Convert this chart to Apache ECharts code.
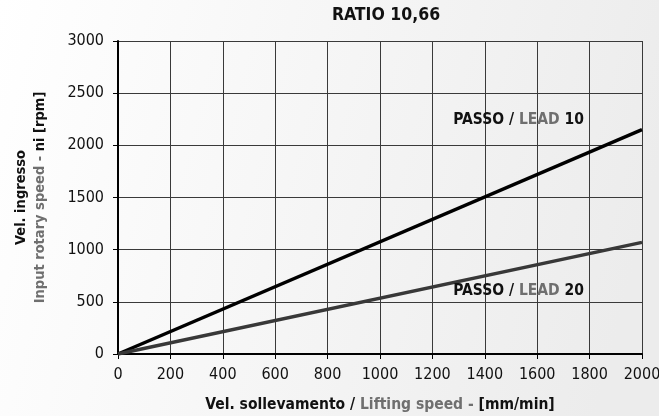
<!DOCTYPE html>
<html>
<head>
<meta charset="utf-8">
<script src="https://cdn.jsdelivr.net/npm/echarts@6/dist/echarts.min.js"></script>
<style>
html,body{margin:0;padding:0;background:#fff;}
#c{width:659px;height:416px;}
</style>
</head>
<body>
<div id="c"></div>
<script>
// Data
const speeds = [0, 2000];            // Vel. sollevamento [mm/min]
const lead10 = [0, 2150];            // PASSO / LEAD 10 -> rpm
const lead20 = [0, 1070];            // PASSO / LEAD 20 -> rpm
const xTicks = [0, 200, 400, 600, 800, 1000, 1200, 1400, 1600, 1800, 2000];
const yTicks = [0, 500, 1000, 1500, 2000, 2500, 3000];
const labelPoint10 = [1529, 2243];
const labelPoint20 = [1529, 604];

const FONT = '"DejaVu Sans Condensed", "Liberation Sans Narrow", sans-serif';
const BLK = '#111';
const GRY = '#6f6f6f';

const chart = echarts.init(document.getElementById('c'), null, {renderer: 'canvas'});

const richLabel = {
  b: {fontFamily: FONT, fontWeight: 'bold', fontSize: 15.5, color: BLK},
  g: {fontFamily: FONT, fontWeight: 'bold', fontSize: 15.5, color: GRY}
};

chart.setOption({
  animation: false,
  backgroundColor: {
    type: 'linear', x: 0, y: 0, x2: 1, y2: 0.4,
    colorStops: [{offset: 0, color: '#ffffff'}, {offset: 1, color: '#ececec'}]
  },
  title: {
    text: 'RATIO 10,66',
    left: 381, top: 1, textAlign: 'center',
    textStyle: {fontFamily: FONT, fontWeight: 'bold', fontSize: 17.5, color: BLK}
  },
  grid: {left: 118, right: 17, top: 41, bottom: 62, containLabel: false, outerBoundsMode: 'none'},
  xAxis: {
    type: 'value', min: xTicks[0], max: xTicks[xTicks.length - 1], interval: 200,
    axisLine: {onZero: false, lineStyle: {color: '#000', width: 2}},
    axisTick: {show: true, inside: false, length: 5, lineStyle: {color: '#000', width: 1}},
    axisLabel: {fontFamily: FONT, fontSize: 16, color: BLK, margin: 13, formatter: v => String(v)},
    splitLine: {show: true, lineStyle: {color: '#3a3a3a', width: 1}},
    name: '{b|Vel. sollevamento / }{g|Lifting speed - }{b|[mm/min]}',
    nameLocation: 'middle', nameGap: 43,
    nameTextStyle: {rich: {
      b: {fontFamily: FONT, fontWeight: 'bold', fontSize: 15.5, color: BLK},
      g: {fontFamily: FONT, fontWeight: 'bold', fontSize: 15.5, color: GRY}
    }}
  },
  yAxis: {
    type: 'value', min: yTicks[0], max: yTicks[yTicks.length - 1], interval: 500,
    axisLine: {show: true, onZero: false, lineStyle: {color: '#000', width: 2}},
    axisTick: {show: true, inside: false, length: 5, lineStyle: {color: '#000', width: 1}},
    axisLabel: {fontFamily: FONT, fontSize: 16, color: BLK, margin: 14, formatter: v => String(v)},
    splitLine: {show: true, lineStyle: {color: '#3a3a3a', width: 1}},
    name: '{b|Vel. ingresso}\n{g|Input rotary speed - }{b|ni [rpm]}',
    nameLocation: 'middle', nameGap: 68, nameRotate: 90,
    nameTextStyle: {lineHeight: 19, rich: {
      b: {fontFamily: FONT, fontWeight: 'bold', fontSize: 14.5, color: BLK, lineHeight: 19},
      g: {fontFamily: FONT, fontWeight: 'bold', fontSize: 14.5, color: GRY, lineHeight: 19}
    }}
  },
  series: [
    {
      type: 'line', name: 'LEAD 10', symbol: 'none',
      data: speeds.map((v, i) => [v, lead10[i]]),
      lineStyle: {color: '#000', width: 3.5},
      markPoint: {
        symbol: 'rect', symbolSize: 0,
        data: [{coord: labelPoint10, value: 1}],
        label: {show: true, position: 'inside', formatter: '{b|PASSO / }{g|LEAD }{b|10}', rich: richLabel}
      }
    },
    {
      type: 'line', name: 'LEAD 20', symbol: 'none',
      data: speeds.map((v, i) => [v, lead20[i]]),
      lineStyle: {color: '#383838', width: 3.5},
      markPoint: {
        symbol: 'rect', symbolSize: 0,
        data: [{coord: labelPoint20, value: 1}],
        label: {show: true, position: 'inside', formatter: '{b|PASSO / }{g|LEAD }{b|20}', rich: richLabel}
      }
    }
  ]
});
</script>
</body>
</html>
